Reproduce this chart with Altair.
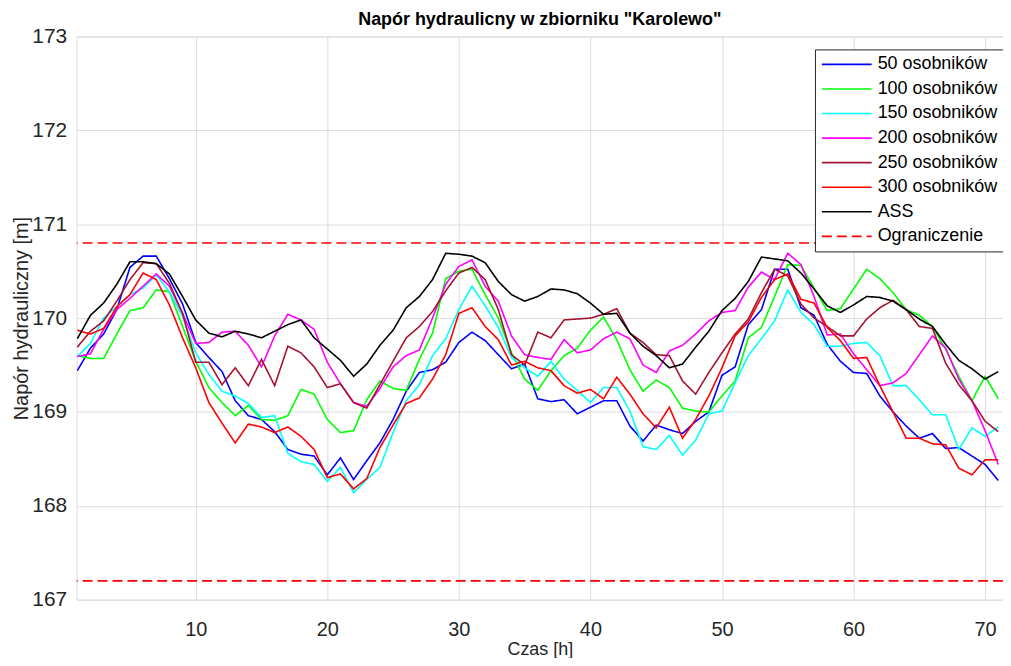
import altair as alt
import pandas as pd

# ---- data ----
hours = list(range(1, 72))

s50 = [169.44, 169.68, 169.83, 170.09, 170.54, 170.66, 170.66, 170.42, 170.15, 169.74,
       169.58, 169.43, 169.12, 168.96, 168.92, 168.79, 168.60, 168.55, 168.53, 168.33,
       168.51, 168.28, 168.48, 168.67, 168.92, 169.22, 169.42, 169.45, 169.53, 169.74,
       169.85, 169.76, 169.61, 169.46, 169.51, 169.14, 169.11, 169.13, 168.98, 169.05,
       169.12, 169.12, 168.85, 168.69, 168.86, 168.81, 168.77, 168.90, 169.00, 169.39,
       169.48, 169.93, 170.09, 170.52, 170.52, 170.11, 170.03, 169.72, 169.54, 169.42,
       169.41, 169.17, 169.00, 168.85, 168.72, 168.77, 168.61, 168.62, 168.53, 168.44,
       168.27]

s100 = [169.60, 169.57, 169.57, 169.83, 170.08, 170.11, 170.30, 170.28, 169.91, 169.54,
        169.26, 169.10, 168.96, 169.07, 168.92, 168.91, 168.96, 169.24, 169.19, 168.92,
        168.78, 168.80, 169.13, 169.33, 169.25, 169.23, 169.56, 169.84, 170.42, 170.50,
        170.52, 170.25, 170.00, 169.63, 169.35, 169.23, 169.44, 169.60, 169.68, 169.87,
        170.01, 169.77, 169.45, 169.22, 169.34, 169.26, 169.04, 169.01, 169.00, 169.17,
        169.33, 169.79, 169.90, 170.23, 170.57, 170.56, 170.32, 170.08, 170.10, 170.31,
        170.52, 170.42, 170.27, 170.09, 170.03, 169.91, 169.67, 169.38, 169.12, 169.38,
        169.14]

s150 = [169.59, 169.73, 170.00, 170.12, 170.25, 170.32, 170.46, 170.28, 170.02, 169.63,
        169.40, 169.22, 169.17, 169.09, 168.94, 168.96, 168.56, 168.47, 168.44, 168.26,
        168.41, 168.14, 168.28, 168.41, 168.78, 169.12, 169.29, 169.60, 169.78, 170.09,
        170.34, 170.13, 169.90, 169.58, 169.47, 169.38, 169.54, 169.35, 169.23, 169.10,
        169.26, 169.26, 169.01, 168.63, 168.60, 168.75, 168.54, 168.70, 168.98, 169.01,
        169.31, 169.60, 169.78, 169.97, 170.30, 170.06, 169.93, 169.70, 169.70, 169.73,
        169.74, 169.60, 169.28, 169.28, 169.13, 168.97, 168.97, 168.60, 168.83, 168.74,
        168.84]

s200 = [169.59, 169.62, 169.88, 170.09, 170.21, 170.34, 170.47, 170.34, 170.05, 169.73,
        169.74, 169.85, 169.86, 169.71, 169.48, 169.81, 170.04, 169.98, 169.88, 169.53,
        169.30, 169.10, 169.06, 169.25, 169.48, 169.60, 169.66, 170.00, 170.36, 170.55,
        170.62, 170.34, 170.18, 169.81, 169.61, 169.58, 169.56, 169.77, 169.63, 169.66,
        169.78, 169.85, 169.78, 169.50, 169.42, 169.65, 169.71, 169.83, 169.97, 170.06,
        170.08, 170.33, 170.49, 170.41, 170.69, 170.57, 170.23, 169.82, 169.83, 169.62,
        169.45, 169.28, 169.31, 169.41, 169.61, 169.81, 169.68, 169.35, 169.12, 168.80,
        168.44]

s250 = [169.69, 169.86, 169.97, 170.18, 170.41, 170.59, 170.58, 170.37, 170.05, 169.53,
        169.53, 169.29, 169.47, 169.28, 169.56, 169.28, 169.70, 169.63, 169.48, 169.26,
        169.30, 169.10, 169.04, 169.29, 169.54, 169.79, 169.91, 170.07, 170.29, 170.48,
        170.54, 170.41, 170.09, 169.61, 169.50, 169.85, 169.79, 169.98, 169.99, 170.00,
        170.04, 170.10, 169.84, 169.74, 169.61, 169.60, 169.33, 169.19, 169.42, 169.63,
        169.83, 169.99, 170.27, 170.52, 170.45, 170.15, 170.00, 169.91, 169.81, 169.81,
        169.99, 170.11, 170.19, 170.09, 169.91, 169.89, 169.52, 169.29, 169.12, 168.90,
        168.79]

s300 = [169.87, 169.83, 169.89, 170.12, 170.25, 170.48, 170.41, 170.14, 169.79, 169.47,
        169.10, 168.88, 168.67, 168.87, 168.84, 168.78, 168.84, 168.74, 168.60, 168.30,
        168.34, 168.18, 168.29, 168.62, 168.86, 169.09, 169.15, 169.35, 169.61, 170.05,
        170.11, 169.91, 169.77, 169.50, 169.54, 169.47, 169.44, 169.28, 169.20, 169.24,
        169.14, 169.37, 169.19, 168.98, 168.83, 169.05, 168.72, 168.92, 169.17, 169.47,
        169.81, 169.96, 170.22, 170.41, 170.47, 170.20, 170.16, 169.90, 169.76, 169.57,
        169.58, 169.28, 169.00, 168.72, 168.72, 168.66, 168.65, 168.40, 168.33, 168.49,
        168.49]

ass = [169.78, 170.03, 170.16, 170.36, 170.60, 170.60, 170.58, 170.47, 170.23, 169.98,
       169.84, 169.80, 169.86, 169.83, 169.79, 169.86, 169.93, 169.98, 169.79, 169.67,
       169.55, 169.38, 169.51, 169.71, 169.87, 170.11, 170.23, 170.41, 170.69, 170.68,
       170.66, 170.59, 170.39, 170.25, 170.18, 170.23, 170.31, 170.30, 170.26, 170.16,
       170.04, 170.05, 169.84, 169.70, 169.60, 169.47, 169.51, 169.69, 169.86, 170.08,
       170.21, 170.39, 170.65, 170.63, 170.61, 170.48, 170.31, 170.13, 170.06, 170.14,
       170.23, 170.22, 170.18, 170.09, 169.99, 169.91, 169.72, 169.55, 169.46, 169.35,
       169.43]

limits = [170.8, 167.2]

series_names = ["50 osobników", "100 osobników", "150 osobników", "200 osobników",
                "250 osobników", "300 osobników", "ASS", "Ograniczenie"]
series_colors = ["#0000FF", "#00FF00", "#00FFFF", "#FF00FF",
                 "#A2142F", "#FF0000", "#000000", "#FF0000"]
series_dash = [[1, 0]] * 7 + [[10, 5]]

x_ticks = [10, 20, 30, 40, 50, 60, 70]
y_ticks = [167, 168, 169, 170, 171, 172, 173]

# ---- tables ----
rows = []
for name, vals in zip(series_names[:7], [s50, s100, s150, s200, s250, s300, ass]):
    for h, v in zip(hours, vals):
        rows.append({"Czas": h, "Napor": v, "Seria": name})
df = pd.DataFrame(rows)
lim_df = pd.DataFrame({"Napor": limits, "Seria": ["Ograniczenie"] * len(limits)})

FONT = "Liberation Sans"
TXT = "#262626"

color_enc = alt.Color(
    "Seria:N",
    scale=alt.Scale(domain=series_names, range=series_colors),
    legend=alt.Legend(
        title=None, orient="none", legendX=742, legendY=13,
        symbolType="stroke", symbolSize=2500, symbolStrokeWidth=1.6,
        labelFont=FONT, labelFontSize=18, labelColor="#000000",
        clipHeight=18, rowPadding=6.7, padding=6, labelOffset=5,
        strokeColor="#262626", fillColor="white", cornerRadius=0,
    ),
)
dash_enc = alt.StrokeDash(
    "Seria:N",
    scale=alt.Scale(domain=series_names, range=series_dash),
    legend=alt.Legend(title=None),
)

x_enc = alt.X(
    "Czas:Q",
    scale=alt.Scale(domain=[0.95, 71.36], nice=False, zero=False),
    axis=alt.Axis(values=x_ticks, title="Czas [h]", tickSize=0, labelPadding=20,
                  titlePadding=1, labelFontSize=20, titleFontSize=18, domain=False,
                  labelFont=FONT, titleFont=FONT, labelColor=TXT, titleColor=TXT,
                  titleFontWeight="normal"),
)
y_enc = alt.Y(
    "Napor:Q",
    scale=alt.Scale(domain=[167, 173], nice=False, zero=False),
    axis=alt.Axis(values=y_ticks, format="d", title="Napór hydrauliczny [m]", tickSize=0,
                  labelPadding=10, titlePadding=0, labelFontSize=21, titleFontSize=20,
                  domain=False, labelFont=FONT, titleFont=FONT, labelColor=TXT,
                  titleColor=TXT, titleFontWeight="normal"),
)

lines = alt.Chart(df).mark_line(strokeWidth=1.6, clip=True).encode(
    x=x_enc, y=y_enc, color=color_enc, strokeDash=dash_enc,
    order=alt.Order("Czas:Q"),
)

rules = alt.Chart(lim_df).mark_rule(strokeWidth=1.6).encode(
    y=alt.Y("Napor:Q"), color=color_enc, strokeDash=dash_enc,
)

chart = (
    alt.layer(lines, rules)
    .properties(
        width=931, height=566,
        title=alt.TitleParams('Napór hydraulicny w zbiorniku "Karolewo"', font=FONT,
                              fontSize=18, fontWeight="bold", color="#000000",
                              offset=8, dy=11, anchor="middle", frame="group"),
        padding={"left": 69, "top": 27, "right": 0, "bottom": 57},
        autosize=alt.AutoSizeParams(type="none"),
    )
    .configure_view(stroke="#262626", strokeWidth=1)
    .configure_axis(grid=True, gridColor="#b4b4b4", gridDash=[2, 2], gridWidth=1)
    .configure(background="white")
)

chart.save("out.html", embed_options={"renderer": "svg", "actions": False})
